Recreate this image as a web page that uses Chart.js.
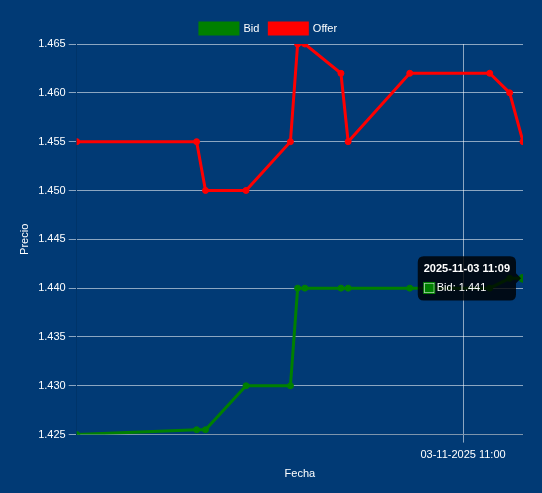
<!DOCTYPE html>
<html lang="es">
<head>
  <meta charset="UTF-8" />
  <title>Bid / Offer</title>
  <script src="https://cdn.jsdelivr.net/npm/chart.js"></script>
  <style>
    html, body { margin: 0; padding: 0; background: #013a75; }
    .wrap { position: relative; width: 542px; height: 493px; }
  </style>
</head>
<body>
<div class="wrap">
  <canvas id="precioChart"></canvas>
</div>

<script>
  // Datos
  const fechas = [
    '2025-11-03 10:02:00', '2025-11-03 10:20:00', '2025-11-03 10:21:20', '2025-11-03 10:27:25',
    '2025-11-03 10:34:05', '2025-11-03 10:35:10', '2025-11-03 10:36:15', '2025-11-03 10:41:40',
    '2025-11-03 10:42:45', '2025-11-03 10:52:00', '2025-11-03 11:04:00', '2025-11-03 11:07:00',
    '2025-11-03 11:09:00'
  ];
  const bid   = [1.425, 1.4255, 1.4255, 1.430, 1.430, 1.440, 1.440, 1.440, 1.440, 1.440, 1.440, 1.441, 1.441];
  const offer = [1.455, 1.455, 1.450, 1.450, 1.455, 1.465, 1.465, 1.462, 1.455, 1.462, 1.462, 1.460, 1.455];
  const xTicks = ['2025-11-03 11:00:00'];

  // minutos desde medianoche
  function toMin(s) {
    const t = s.split(' ')[1].split(':');
    return +t[0] * 60 + +t[1] + (+t[2] || 0) / 60;
  }
  function pad(n) { return String(n).padStart(2, '0'); }
  function hhmm(m) { return pad(Math.floor(m / 60)) + ':' + pad(Math.floor(m % 60)); }

  const xs = fechas.map(toMin);
  const bidPts = xs.map((x, i) => ({ x: x, y: bid[i] }));
  const offerPts = xs.map((x, i) => ({ x: x, y: offer[i] }));

  Chart.defaults.color = '#ffffff';
  Chart.defaults.font.family = "Arial, 'Liberation Sans', sans-serif";
  Chart.defaults.font.size = 11;

  const ctx = document.getElementById('precioChart').getContext('2d');
  const chart = new Chart(ctx, {
    type: 'line',
    data: {
      datasets: [
        { label: 'Bid', data: bidPts, borderColor: 'green', backgroundColor: 'green', borderWidth: 3,
          pointRadius: 3, pointBorderWidth: 1, pointHoverRadius: 4, tension: 0 },
        { label: 'Offer', data: offerPts, borderColor: 'red', backgroundColor: 'red', borderWidth: 3,
          pointRadius: 3, pointBorderWidth: 1, pointHoverRadius: 4, tension: 0 }
      ]
    },
    options: {
      responsive: true,
      maintainAspectRatio: false,
      animation: false,
      layout: { padding: { top: 13, right: 19, bottom: 8, left: 14 } },
      interaction: { mode: 'nearest', intersect: true },
      plugins: {
        legend: { position: 'top', labels: { color: '#fff', boxWidth: 38 } },
        tooltip: {
          titleFont: { size: 11, weight: 'bold' },
          bodyFont: { size: 11 },
          callbacks: {
            title: items => '2025-11-03 ' + hhmm(items[0].parsed.x)
          }
        }
      },
      scales: {
        x: {
          type: 'linear',
          min: xs[0],
          max: xs[xs.length - 1],
          title: { display: true, text: 'Fecha', padding: { top: 0, bottom: 4 } },
          grid: { color: 'rgba(255,255,255,0.55)' },
          afterBuildTicks: s => { s.ticks = xTicks.map(t => ({ value: toMin(t) })); },
          ticks: {
            maxRotation: 0,
            padding: 6,
            callback: v => '03-11-2025 ' + hhmm(v)
          }
        },
        y: {
          min: 1.425,
          max: 1.465,
          title: { display: true, text: 'Precio' },
          grid: { color: 'rgba(255,255,255,0.55)' },
          ticks: { stepSize: 0.005, callback: v => v.toFixed(3) }
        }
      }
    }
  });

  // tooltip fijo sobre el último Bid
  const last = bidPts.length - 1;
  const el = chart.getDatasetMeta(0).data[last];
  chart.setActiveElements([{ datasetIndex: 0, index: last }]);
  chart.tooltip.setActiveElements([{ datasetIndex: 0, index: last }], { x: el.x, y: el.y });
  chart.update();
</script>
</body>
</html>
